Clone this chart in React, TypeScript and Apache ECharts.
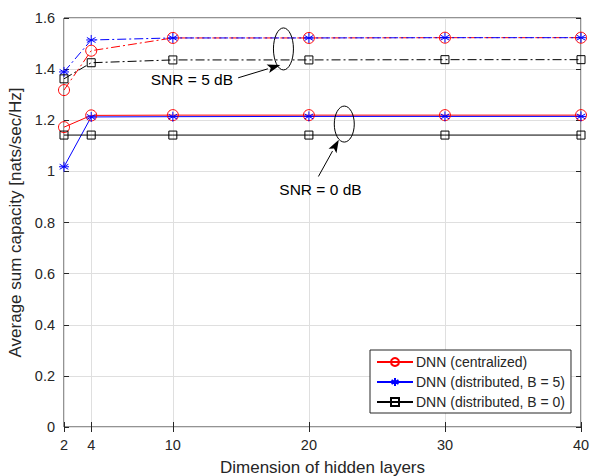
import React, { useEffect, useRef } from "react";
import * as echarts from "echarts";

const xValues = [2, 4, 10, 20, 30, 40];
const xTicks = [2, 4, 10, 20, 30, 40];

const centralized0 = [1.173, 1.219, 1.22, 1.22, 1.22, 1.22];
const distributedB5_0 = [1.018, 1.213, 1.214, 1.215, 1.215, 1.215];
const distributedB0_0 = [1.142, 1.142, 1.142, 1.142, 1.142, 1.142];
const centralized5 = [1.318, 1.472, 1.522, 1.522, 1.523, 1.523];
const distributedB5_5 = [1.389, 1.514, 1.522, 1.522, 1.523, 1.523];
const distributedB0_5 = [1.362, 1.425, 1.436, 1.436, 1.437, 1.437];

const legendNames = [
  "DNN (centralized)",
  "DNN (distributed, B = 5)",
  "DNN (distributed, B = 0)",
];

// annotations in data units
const ellipse5 = { x: 18.13, y: 1.479 };
const ellipse0 = { x: 22.6, y: 1.185 };
const label5 = { text: "SNR = 5 dB", x: 11.4, y: 1.36 };
const label0 = { text: "SNR = 0 dB", x: 20.85, y: 0.93 };
const arrow5 = { from: [14.8, 1.366], to: [17.9, 1.416] };
const arrow0 = { from: [20.7, 0.98], to: [22.2, 1.124] };

const FONT = "'Liberation Sans', Arial, Helvetica, sans-serif";
const TXT = "#262626";

const starPath =
  "path://M0,-10L0,10M-8.66,-5L8.66,5M-8.66,5L8.66,-5M-10,0L10,0";

const pairs = (ys: number[]) => xValues.map((x, i) => [x, ys[i]]);

export default function App() {
  const ref = useRef<HTMLDivElement>(null);
  useEffect(() => {
    document.body.style.margin = "0";
    const chart = echarts.init(ref.current!, null, { renderer: "svg" });
    const dashDot = [9, 3, 2, 3];
    const mk = (
      name: string,
      data: number[],
      color: string,
      symbol: string,
      size: number,
      dashed: boolean
    ) => ({
      type: "line",
      name,
      data: pairs(data),
      symbol,
      symbolSize: size,
      showSymbol: true,
      lineStyle: { color, width: 1, type: dashed ? dashDot : "solid" },
      itemStyle: { color: "rgba(0,0,0,0)", borderColor: color, borderWidth: 1 },
      emphasis: { disabled: true },
      z: 3,
    });
    const option: any = {
      animation: false,
      grid: {
        left: 64,
        right: 11,
        top: 18,
        bottom: 49,
        show: true,
        borderColor: TXT,
        borderWidth: 1,
        backgroundColor: "#fff",
        outerBoundsMode: "none",
        containLabel: false,
      },
      xAxis: [
        {
          type: "value",
          min: 2,
          max: 40,
          name: "Dimension of hidden layers",
          nameLocation: "middle",
          nameGap: 32,
          nameTextStyle: { fontFamily: FONT, fontSize: 17, color: TXT },
          axisLine: { show: false },
          axisTick: {
            show: true,
            inside: true,
            length: 5,
            customValues: xTicks,
            lineStyle: { color: TXT },
          },
          axisLabel: {
            customValues: xTicks,
            fontFamily: FONT,
            fontSize: 14.5,
            color: TXT,
            margin: 10,
          },
          splitLine: { show: true, lineStyle: { color: "#dfdfdf" } },
        },
        {
          type: "value",
          min: 2,
          max: 40,
          position: "top",
          axisLine: { show: false },
          axisTick: {
            show: true,
            inside: true,
            length: 5,
            customValues: xTicks,
            lineStyle: { color: TXT },
          },
          axisLabel: { show: false, customValues: xTicks },
          splitLine: { show: false },
        },
      ],
      yAxis: [
        {
          type: "value",
          min: 0,
          max: 1.6,
          interval: 0.2,
          name: "Average sum capacity [nats/sec/Hz]",
          nameLocation: "middle",
          nameGap: 38,
          nameTextStyle: { fontFamily: FONT, fontSize: 17, color: TXT },
          axisLine: { show: false },
          axisTick: { show: true, inside: true, length: 5, lineStyle: { color: TXT } },
          axisLabel: {
            fontFamily: FONT,
            fontSize: 14.5,
            color: TXT,
            margin: 9,
            formatter: (v: number) => String(+v.toFixed(1)),
          },
          splitLine: { show: true, lineStyle: { color: "#dfdfdf" } },
        },
        {
          type: "value",
          min: 0,
          max: 1.6,
          interval: 0.2,
          position: "right",
          axisLine: { show: false },
          axisTick: { show: true, inside: true, length: 5, lineStyle: { color: TXT } },
          axisLabel: { show: false },
          splitLine: { show: false },
        },
      ],
      legend: {
        data: legendNames,
        orient: "vertical",
        left: 370,
        top: 350,
        backgroundColor: "#fff",
        borderColor: TXT,
        borderWidth: 1,
        borderRadius: 0,
        padding: [5, 6, 4, 6],
        itemGap: 6,
        itemWidth: 36,
        itemHeight: 10,
        selectedMode: false,
        textStyle: { fontFamily: FONT, fontSize: 14, color: TXT, padding: [0, 0, 0, -2] },
      },
      series: [
        mk(legendNames[0], centralized0, "#ff0000", "circle", 11, false),
        mk(legendNames[1], distributedB5_0, "#0000ff", starPath, 10, false),
        mk(legendNames[2], distributedB0_0, "#000000", "rect", 8, false),
        mk(legendNames[0], centralized5, "#ff0000", "circle", 11, true),
        mk(legendNames[1], distributedB5_5, "#0000ff", starPath, 10, true),
        mk(legendNames[2], distributedB0_5, "#000000", "rect", 8, true),
      ],
    };
    chart.setOption(option);

    const px = (x: number, y: number) =>
      chart.convertToPixel({ xAxisIndex: 0, yAxisIndex: 0 }, [x, y]) as number[];
    const arrowGraphic = (a: { from: number[]; to: number[] }) => {
      const p1 = px(a.from[0], a.from[1]);
      const p2 = px(a.to[0], a.to[1]);
      const dx = p2[0] - p1[0];
      const dy = p2[1] - p1[1];
      const len = Math.hypot(dx, dy);
      const ux = dx / len;
      const uy = dy / len;
      const hl = 13;
      const hw = 4.5;
      const bx = p2[0] - ux * hl;
      const by = p2[1] - uy * hl;
      return [
        {
          type: "line",
          shape: { x1: p1[0], y1: p1[1], x2: bx, y2: by },
          style: { stroke: "#000", lineWidth: 1 },
          z: 10,
        },
        {
          type: "polygon",
          shape: {
            points: [
              [p2[0], p2[1]],
              [bx - uy * hw, by + ux * hw],
              [bx + ux * 3, by + uy * 3],
              [bx + uy * hw, by - ux * hw],
            ],
          },
          style: { fill: "#000" },
          z: 10,
        },
      ];
    };
    const e5 = px(ellipse5.x, ellipse5.y);
    const e0 = px(ellipse0.x, ellipse0.y);
    const l5 = px(label5.x, label5.y);
    const l0 = px(label0.x, label0.y);
    chart.setOption({
      graphic: [
        {
          type: "ellipse",
          shape: { cx: e5[0], cy: e5[1], rx: 10, ry: 21 },
          style: { fill: "none", stroke: "#000", lineWidth: 1 },
          z: 10,
        },
        {
          type: "ellipse",
          shape: { cx: e0[0], cy: e0[1], rx: 10, ry: 18 },
          style: { fill: "none", stroke: "#000", lineWidth: 1 },
          z: 10,
        },
        {
          type: "text",
          x: l5[0],
          y: l5[1],
          style: {
            text: label5.text,
            fontFamily: FONT,
            fontSize: 15.5,
            fill: "#000",
            align: "center",
            verticalAlign: "middle",
          },
          z: 10,
        },
        {
          type: "text",
          x: l0[0],
          y: l0[1],
          style: {
            text: label0.text,
            fontFamily: FONT,
            fontSize: 15.5,
            fill: "#000",
            align: "center",
            verticalAlign: "middle",
          },
          z: 10,
        },
        ...arrowGraphic(arrow5),
        ...arrowGraphic(arrow0),
      ],
    });
    return () => chart.dispose();
  }, []);
  return <div ref={ref} style={{ width: 592, height: 476 }} />;
}
